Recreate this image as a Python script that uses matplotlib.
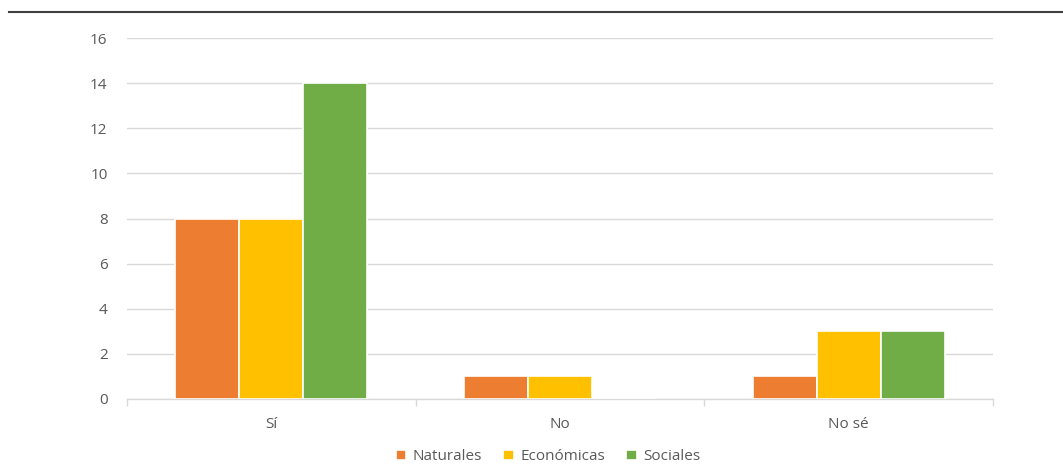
import numpy as np
import matplotlib.pyplot as plt
from matplotlib.lines import Line2D

# ================= DATA =================

categories = ["Sí", "No", "No sé"]
series_names = ["Naturales", "Económicas", "Sociales"]
naturales = [8, 1, 1]
economicas = [8, 1, 3]
sociales = [14, 0, 3]
colors = ["#ED7D31", "#FFC000", "#70AD47"]
y_ticks = [0, 2, 4, 6, 8, 10, 12, 14, 16]

# ================= FIGURE =================

plt.rcParams["font.family"] = ["Open Sans", "DejaVu Sans"]

fig = plt.figure(figsize=(10.63, 4.75), dpi=100)
ax = fig.add_axes([127 / 1063, 76 / 475, 866 / 1063, 361 / 475])

x = np.arange(len(categories))
width = 0.222
values = [naturales, economicas, sociales]

for i, (name, vals) in enumerate(zip(series_names, values)):
    ax.bar(
        x + (i - 1) * width,
        vals,
        width=width,
        color=colors[i],
        edgecolor="white",
        linewidth=1.2,
        label=name,
        zorder=3
    )

ax.set_xlim(-0.5, len(categories) - 0.5)
ax.set_ylim(0, 16)
ax.set_yticks(y_ticks)
ax.set_xticks(x)
ax.set_xticklabels(categories)
ax.set_xticks(np.arange(len(categories) + 1) - 0.5, minor=True)

ax.grid(axis="y", color="#d9d9d9", linewidth=1, zorder=0)
for side in ["top", "right", "left"]:
    ax.spines[side].set_visible(False)
ax.spines["bottom"].set_color("#d9d9d9")
ax.spines["bottom"].set_linewidth(1)

ax.tick_params(axis="y", length=0, pad=14, labelsize=11, labelcolor="#595959")
ax.tick_params(axis="x", which="major", length=0, pad=13, labelsize=11, labelcolor="#595959")
ax.tick_params(axis="x", which="minor", length=5, color="#d9d9d9", width=1)

ax.legend(
    loc="center",
    bbox_to_anchor=(0.486, -0.16),
    ncol=3,
    frameon=False,
    fontsize=11,
    handlelength=0.7,
    handleheight=0.7,
    handletextpad=0.4,
    columnspacing=1.4,
    labelcolor="#595959"
)

fig.add_artist(Line2D([9 / 1063, 1.0], [463 / 475, 463 / 475],
                      color="#404040", linewidth=1.5))

fig.savefig("out.png", dpi=100)
